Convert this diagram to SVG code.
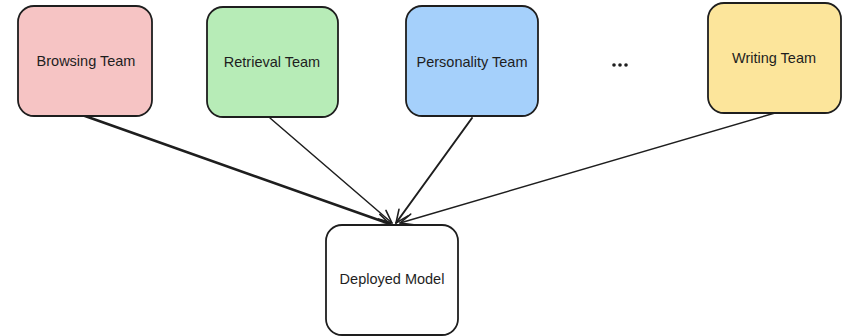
<svg xmlns="http://www.w3.org/2000/svg" width="847" height="336" viewBox="0 0 847 336">
  <defs>
    <style>
      .box { stroke: #1e1e1e; stroke-width: 1.8; }
      .label { font-family: "Liberation Sans", "DejaVu Sans", sans-serif; font-size: 14.5px; fill: #1e1e1e; text-anchor: middle; dominant-baseline: central; }
      .edge { stroke: #1e1e1e; fill: none; stroke-linecap: round; }
    </style>
    <marker id="arrow" viewBox="0 0 20 20" refX="18" refY="10" markerWidth="16" markerHeight="16" markerUnits="userSpaceOnUse" orient="auto">
      <path d="M2,3 L18,10 L2,17" fill="none" stroke="#1e1e1e" stroke-width="2" stroke-linecap="round" stroke-linejoin="round"/>
    </marker>
  </defs>
  <rect width="847" height="336" fill="#ffffff"/>

  <g id="connectors">
    <line class="edge" x1="85" y1="116" x2="390" y2="224" stroke-width="2.6" marker-end="url(#arrow)"/>
    <line class="edge" x1="270" y1="118" x2="392" y2="223" stroke-width="1.5" marker-end="url(#arrow)"/>
    <line class="edge" x1="472" y1="118" x2="396" y2="223" stroke-width="2" marker-end="url(#arrow)"/>
    <line class="edge" x1="775" y1="113" x2="400" y2="223" stroke-width="1.5" marker-end="url(#arrow)"/>
  </g>

  <g id="browsing-team">
    <rect class="box" x="18" y="6" width="134" height="110" rx="16" fill="#f6c4c4"/>
    <text class="label" x="86" y="61">Browsing Team</text>
  </g>
  <g id="retrieval-team">
    <rect class="box" x="207" y="7" width="131" height="110" rx="16" fill="#b7ecb7"/>
    <text class="label" x="272" y="62">Retrieval Team</text>
  </g>
  <g id="personality-team">
    <rect class="box" x="406" y="6" width="132" height="110" rx="16" fill="#a5d0fb"/>
    <text class="label" x="472" y="62">Personality Team</text>
  </g>
  <g id="ellipsis">
    <circle cx="614" cy="65" r="1.8" fill="#1e1e1e"/>
    <circle cx="620" cy="65" r="1.8" fill="#1e1e1e"/>
    <circle cx="626" cy="65" r="1.8" fill="#1e1e1e"/>
  </g>
  <g id="writing-team">
    <rect class="box" x="708" y="3" width="133" height="110" rx="16" fill="#fce59b"/>
    <text class="label" x="774" y="58">Writing Team</text>
  </g>
  <g id="deployed-model">
    <rect class="box" x="326" y="225" width="132" height="110" rx="16" fill="#ffffff"/>
    <text class="label" x="392" y="279">Deployed Model</text>
  </g>
</svg>
